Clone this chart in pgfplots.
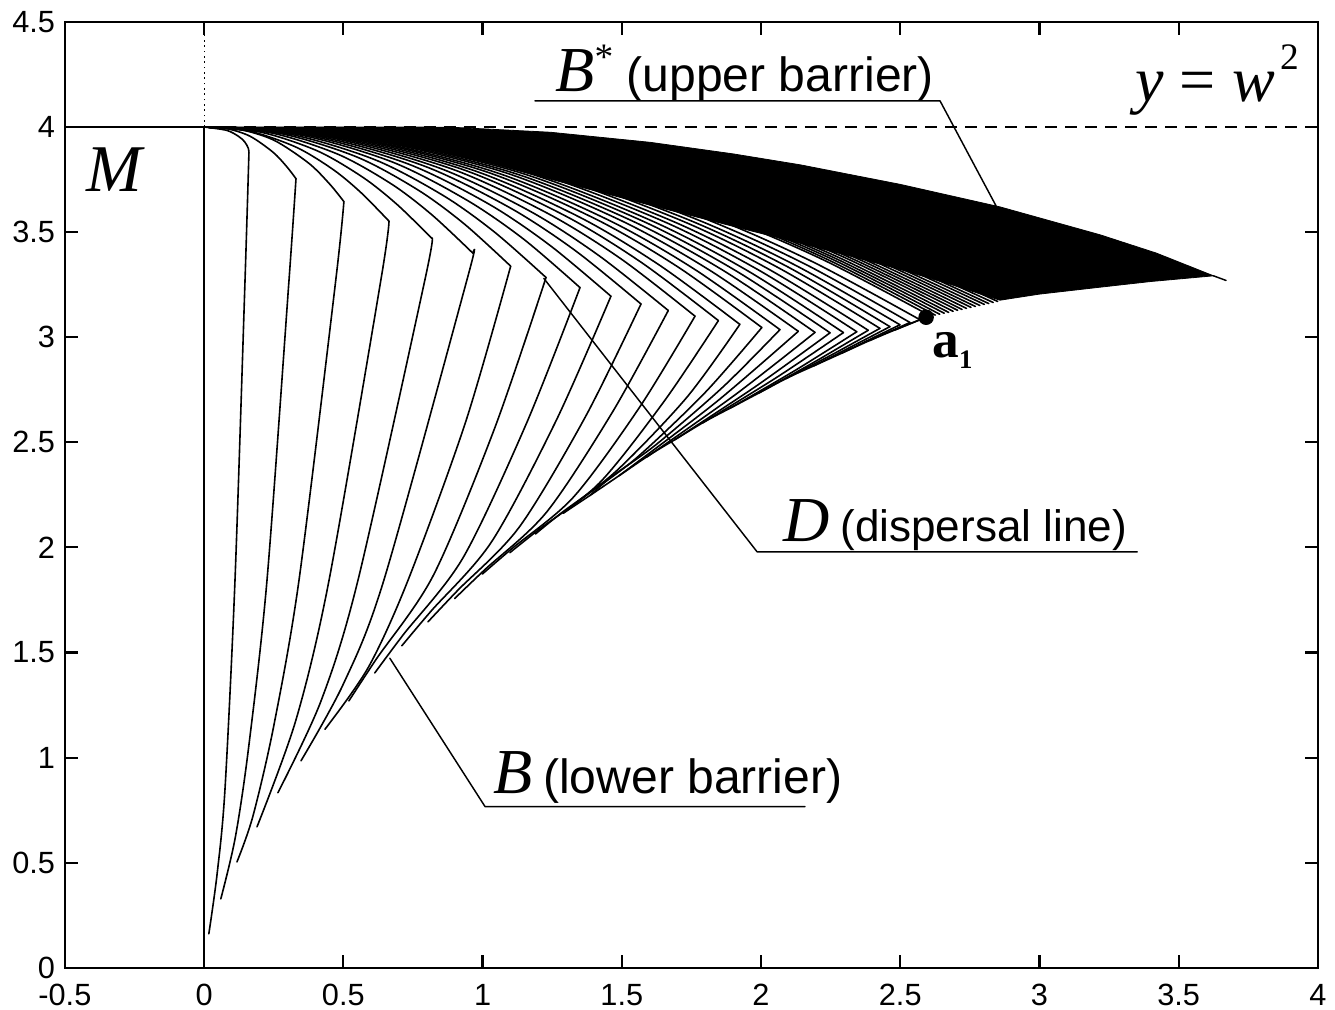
\documentclass[border=0pt]{standalone}
\usepackage{fontspec}
\setmainfont{Liberation Sans}
\newfontfamily\serif{Liberation Serif}
\usepackage{pgfplots}
\pgfplotsset{compat=1.18}
\begin{document}
\begin{tikzpicture}
\begin{axis}[
  name=ax, scale only axis, width=469.3pt, height=354.3pt,
  xmin=-0.5, xmax=4, ymin=0, ymax=4.5,
  xtick={-0.5,0,0.5,1,1.5,2,2.5,3,3.5,4},
  ytick={0,0.5,1,1.5,2,2.5,3,3.5,4,4.5},
  tick align=inside, major tick length=4.9pt,
  xtick pos=both, ytick pos=both,
  xticklabel pos=bottom, yticklabel pos=left,
  axis line style={line width=0.8pt},
  every tick/.style={line width=0.8pt, black},
  ticklabel style={font=\fontsize{11.5}{13}\selectfont},
  yticklabel style={xshift=-2.5pt, inner sep=1pt},
  xticklabel style={yshift=-5pt, inner sep=1pt},
  /pgf/number format/assume math mode=true,
  clip=false,
  traj/.style={line width=0.6pt, black, smooth, line cap=round, line join=round},
  seg/.style={line width=0.55pt, black, line cap=round, line join=round},
]
% frame lines of region M
\addplot[seg] coordinates {(-0.5,4) (0,4)};
\addplot[seg] coordinates {(0,0) (0,4)};
\addplot[line width=0.4pt, dash pattern=on 0.6pt off 1.4pt] coordinates {(0,4) (0,4.5)};
\addplot[line width=0.6pt, dash pattern=on 4.5pt off 3pt] coordinates {(0,4) (4,4)};

% dense (solid) region between the packed arcs and the upper barrier
\addplot[fill=black, draw=black, line width=0.3pt] coordinates {
(0,4) (0.345,3.978) (0.704,3.920) (0.884,3.872) (1.027,3.828) (1.243,3.752) (1.602,3.628) (1.961,3.507) (2.141,3.447) (2.32,3.386) (2.5,3.322) (2.679,3.252) (2.858,3.176)
(3.0,3.205) (3.218,3.238) (3.4,3.265) (3.625,3.292)
(3.42,3.40) (3.218,3.487) (2.858,3.620) (2.5,3.727) (2.141,3.820) (1.9,3.872) (1.602,3.927) (1.243,3.975) (0.884,3.999) (0.5,4.0)} -- cycle;
\addplot[seg] coordinates {(3.625,3.292) (3.670,3.270)};

% upper arcs of trajectories with corners on D
\addplot[traj] coordinates {(0,4) (0.081,3.984) (0.123,3.956) (0.146,3.929) (0.159,3.898) (0.161,3.877)};
\addplot[traj] coordinates {(0,4) (0.0825,3.992) (0.165,3.956) (0.2475,3.880) (0.297,3.811) (0.330,3.754)};
\addplot[traj] coordinates {(0,4) (0.1255,3.989) (0.251,3.937) (0.3765,3.827) (0.452,3.727) (0.502,3.645)};
\addplot[traj] coordinates {(0,4) (0.166,3.979) (0.332,3.903) (0.465,3.796) (0.564,3.687) (0.664,3.552)};
\addplot[traj] coordinates {(0,4) (0.205,3.975) (0.409,3.885) (0.573,3.758) (0.695,3.629) (0.818,3.470)};
\addplot[traj] coordinates {(0,4) (0.241,3.972) (0.483,3.869) (0.676,3.726) (0.820,3.580) (0.965,3.400)};
\addplot[traj] coordinates {(0,4) (0.275,3.969) (0.551,3.856) (0.771,3.698) (0.936,3.537) (1.101,3.338)};
\addplot[traj] coordinates {(0,4) (0.307,3.966) (0.614,3.844) (0.860,3.673) (1.044,3.499) (1.228,3.284)};
\addplot[traj] coordinates {(0,4) (0.338,3.964) (0.675,3.834) (0.945,3.651) (1.148,3.466) (1.350,3.236)};
\addplot[traj] coordinates {(0,4) (0.365,3.962) (0.731,3.825) (1.023,3.633) (1.242,3.437) (1.461,3.195)};
\addplot[traj] coordinates {(0,4) (0.392,3.960) (0.785,3.817) (1.098,3.616) (1.334,3.411) (1.569,3.158)};
\addplot[traj] coordinates {(0,4) (0.417,3.959) (0.834,3.810) (1.167,3.602) (1.417,3.389) (1.667,3.127)};
\addplot[traj] coordinates {(0,4) (0.441,3.957) (0.882,3.804) (1.234,3.589) (1.499,3.371) (1.763,3.100)};
\addplot[traj] coordinates {(0,4) (0.462,3.956) (0.924,3.800) (1.293,3.580) (1.570,3.356) (1.847,3.079)};
\addplot[traj] coordinates {(0,4) (0.481,3.956) (0.962,3.796) (1.347,3.572) (1.635,3.343) (1.924,3.061)};
\addplot[traj] coordinates {(0,4) (0.501,3.955) (1.002,3.792) (1.402,3.565) (1.703,3.333) (2.003,3.046)};
\addplot[traj] coordinates {(0,4) (0.517,3.954) (1.034,3.790) (1.448,3.560) (1.758,3.326) (2.068,3.036)};
\addplot[traj] coordinates {(0,4) (0.534,3.954) (1.067,3.789) (1.494,3.557) (1.814,3.320) (2.134,3.028)};
\addplot[traj] coordinates {(0,4) (0.549,3.954) (1.097,3.787) (1.536,3.554) (1.865,3.317) (2.194,3.023)};
\addplot[traj] coordinates {(0,4) (0.562,3.954) (1.124,3.787) (1.574,3.553) (1.911,3.315) (2.248,3.021)};
\addplot[traj] coordinates {(0,4) (0.574,3.954) (1.148,3.787) (1.607,3.554) (1.952,3.316) (2.296,3.022)};
\addplot[traj] coordinates {(0,4) (0.586,3.954) (1.172,3.788) (1.641,3.556) (1.992,3.319) (2.344,3.026)};
\addplot[traj] coordinates {(0,4) (0.596,3.954) (1.193,3.790) (1.670,3.559) (2.027,3.324) (2.385,3.033)};
\addplot[traj] coordinates {(0,4) (0.607,3.955) (1.214,3.792) (1.699,3.563) (2.063,3.330) (2.427,3.042)};
\addplot[traj] coordinates {(0,4) (0.616,3.955) (1.232,3.793) (1.724,3.567) (2.094,3.336) (2.463,3.050)};
\addplot[traj] coordinates {(0,4) (0.625,3.955) (1.250,3.795) (1.749,3.571) (2.124,3.342) (2.499,3.059)};
\addplot[traj] coordinates {(0,4) (0.634,3.956) (1.268,3.798) (1.775,3.576) (2.155,3.350) (2.535,3.070)};
\addplot[traj] coordinates {(0,4) (0.643,3.957) (1.286,3.801) (1.800,3.582) (2.185,3.359) (2.571,3.083)};

% lower arms from D to the lower barrier B
\addplot[traj] coordinates {(0.161,3.877) (0.147,3.273) (0.111,1.846) (0.075,0.85) (0.047,0.45) (0.017,0.162)};
\addplot[traj] coordinates {(0.330,3.754) (0.305,3.273) (0.226,1.846) (0.16,1.05) (0.112,0.62) (0.060,0.328)};
\addplot[traj] coordinates {(0.502,3.645) (0.473,3.273) (0.341,1.846) (0.25,1.15) (0.175,0.72) (0.118,0.504)};
\addplot[traj] coordinates {(0.664,3.552) (0.635,3.273) (0.449,1.846) (0.33,1.18) (0.19,0.671)};
\addplot[traj] coordinates {(0.818,3.470) (0.793,3.273) (0.553,1.846) (0.42,1.27) (0.265,0.833)};
\addplot[traj] coordinates {(0.965,3.400) (0.944,3.273) (0.646,1.846) (0.50,1.35) (0.348,0.985)};
\addplot[traj] coordinates {(1.101,3.338) (0.94,2.6) (0.733,1.846) (0.59,1.43) (0.434,1.135)};
\addplot[traj] coordinates {(1.228,3.284) (1.044,2.569) (0.824,1.869) (0.619,1.470) (0.52,1.27)};
\addplot[traj] coordinates {(1.350,3.236) (1.158,2.591) (0.930,1.951) (0.716,1.586) (0.613,1.403)};
\addplot[traj] coordinates {(1.461,3.195) (1.266,2.608) (1.033,2.028) (0.815,1.697) (0.71,1.532)};
\addplot[traj] coordinates {(1.569,3.158) (1.370,2.623) (1.132,2.097) (0.911,1.796) (0.804,1.646)};
\addplot[traj] coordinates {(1.667,3.127) (1.468,2.647) (1.230,2.168) (1.008,1.894) (0.9,1.757)};
\addplot[traj] coordinates {(1.763,3.100) (1.565,2.669) (1.327,2.240) (1.106,1.995) (0.999,1.873)};
\addplot[traj] coordinates {(1.847,3.079) (1.652,2.695) (1.420,2.307) (1.203,2.086) (1.098,1.975)};
\addplot[traj] coordinates {(1.924,3.061) (1.733,2.713) (1.48,2.363) (1.283,2.164) (1.19,2.064)};
\addplot[traj] coordinates {(2.003,3.046) (1.798,2.735) (1.554,2.427) (1.376,2.251) (1.29,2.163)};
\addplot[traj] coordinates {(2.068,3.036) (1.864,2.764) (1.626,2.492) (1.464,2.337) (1.386,2.247)};
\addplot[traj] coordinates {(2.134,3.028) (1.832,2.684) (1.49,2.341)};
\addplot[traj] coordinates {(2.194,3.023) (1.907,2.726) (1.59,2.43)};
\addplot[traj] coordinates {(2.248,3.021) (1.981,2.766) (1.69,2.512)};
\addplot[traj] coordinates {(2.296,3.022) (2.053,2.806) (1.79,2.592)};
\addplot[traj] coordinates {(2.344,3.026) (2.125,2.844) (1.89,2.663)};
\addplot[traj] coordinates {(2.385,3.033) (2.193,2.883) (1.99,2.733)};
\addplot[traj] coordinates {(2.427,3.042) (2.262,2.922) (2.09,2.803)};
\addplot[traj] coordinates {(2.463,3.050) (2.329,2.958) (2.19,2.864)};
\addplot[traj] coordinates {(2.499,3.059) (2.3945,2.992) (2.29,2.924)};
\addplot[traj] coordinates {(2.535,3.070) (2.39,2.984)};
\addplot[traj] coordinates {(2.571,3.083) (2.48,3.034)};
% lower barrier B near a1 (merged arms)
\addplot[traj] coordinates {(1.29,2.163) (1.4,2.26) (1.5,2.35) (1.6,2.44) (1.7,2.52) (1.8,2.60) (1.9,2.67) (2.0,2.74) (2.1,2.81) (2.2,2.87) (2.3,2.93) (2.4,2.99) (2.5,3.045) (2.593,3.095)};

% arcs ending on the edge between a1 and the tip
\addplot[traj] coordinates {(0,4) (0.653,3.957) (1.305,3.804) (1.827,3.589) (2.219,3.371) (2.610,3.100)};
\addplot[traj] coordinates {(0,4) (0.657,3.958) (1.313,3.805) (1.838,3.592) (2.232,3.374) (2.626,3.105)};
\addplot[traj] coordinates {(0,4) (0.661,3.958) (1.321,3.806) (1.849,3.593) (2.246,3.377) (2.642,3.109)};
\addplot[traj] coordinates {(0,4) (0.665,3.958) (1.329,3.807) (1.861,3.596) (2.259,3.380) (2.658,3.114)};
\addplot[traj] coordinates {(0,4) (0.669,3.958) (1.337,3.808) (1.872,3.598) (2.273,3.383) (2.674,3.118)};
\addplot[traj] coordinates {(0,4) (0.673,3.958) (1.345,3.809) (1.883,3.600) (2.287,3.387) (2.690,3.123)};
\addplot[traj] coordinates {(0,4) (0.677,3.959) (1.353,3.810) (1.894,3.602) (2.300,3.390) (2.706,3.128)};
\addplot[traj] coordinates {(0,4) (0.681,3.959) (1.361,3.811) (1.905,3.604) (2.314,3.393) (2.722,3.132)};
\addplot[traj] coordinates {(0,4) (0.685,3.959) (1.369,3.812) (1.917,3.606) (2.327,3.396) (2.738,3.137)};
\addplot[traj] coordinates {(0,4) (0.689,3.959) (1.377,3.813) (1.928,3.609) (2.341,3.400) (2.754,3.142)};
\addplot[traj] coordinates {(0,4) (0.693,3.960) (1.385,3.814) (1.939,3.610) (2.355,3.403) (2.770,3.146)};
\addplot[traj] coordinates {(0,4) (0.697,3.960) (1.393,3.815) (1.950,3.613) (2.368,3.406) (2.786,3.151)};
\addplot[traj] coordinates {(0,4) (0.701,3.960) (1.401,3.816) (1.961,3.615) (2.382,3.410) (2.802,3.156)};
\addplot[traj] coordinates {(0,4) (0.705,3.960) (1.409,3.817) (1.973,3.617) (2.395,3.413) (2.818,3.160)};
\addplot[traj] coordinates {(0,4) (0.709,3.960) (1.417,3.818) (1.984,3.619) (2.409,3.416) (2.834,3.165)};
\addplot[traj] coordinates {(0,4) (0.713,3.961) (1.425,3.819) (1.995,3.621) (2.423,3.420) (2.850,3.170)};

% point a1
\addplot[only marks, mark=*, mark size=2.7pt, black] coordinates {(2.593,3.095)};

% leader lines
\addplot[seg] coordinates {(1.188,4.124) (2.643,4.124) (2.844,3.625)};
\addplot[seg] coordinates {(3.351,1.979) (1.986,1.979) (1.22,3.28)};
\addplot[seg] coordinates {(2.158,0.767) (1.009,0.767) (0.667,1.473)};

% labels
\node[anchor=base west, inner sep=0pt] at (axis cs:1.26,4.167)
  {{\serif\itshape\fontsize{24}{24}\selectfont B}\raisebox{0.85em}{\serif\fontsize{14}{14}\selectfont *}\hspace{5pt}{\fontsize{18}{18}\selectfont (upper barrier)}};
\node[anchor=base west, inner sep=0pt] at (axis cs:3.343,4.12)
  {\serif\fontsize{24}{24}\selectfont{\itshape y}\hspace{6pt}=\hspace{6pt}{\itshape w}\hspace{2pt}\raisebox{0.5em}{\fontsize{14}{14}\selectfont 2}};
\node[anchor=base west, inner sep=0pt] at (axis cs:2.079,2.027)
  {{\serif\itshape\fontsize{24}{24}\selectfont D}\hspace{4pt}{\fontsize{16.5}{16.5}\selectfont (dispersal line)}};
\node[anchor=base west, inner sep=0pt] at (axis cs:1.037,0.828)
  {{\serif\itshape\fontsize{24}{24}\selectfont B}\hspace{4pt}{\fontsize{18}{18}\selectfont (lower barrier)}};
\node[inner sep=0pt] at (axis cs:-0.324,3.796) {\serif\itshape\fontsize{25}{25}\selectfont M};
\node[anchor=base west, inner sep=0pt] at (axis cs:2.614,2.902)
  {\serif\bfseries\fontsize{20}{20}\selectfont a\raisebox{-0.2em}{\fontsize{10}{10}\selectfont 1}};
\end{axis}
\pgfresetboundingbox
\path (ax.south west) ++(-24.3pt,-15.7pt) coordinate (bl);
\path (ax.north east) ++(6.4pt,8.2pt) coordinate (tr);
\useasboundingbox (bl) rectangle (tr);
\end{tikzpicture}
\end{document}
